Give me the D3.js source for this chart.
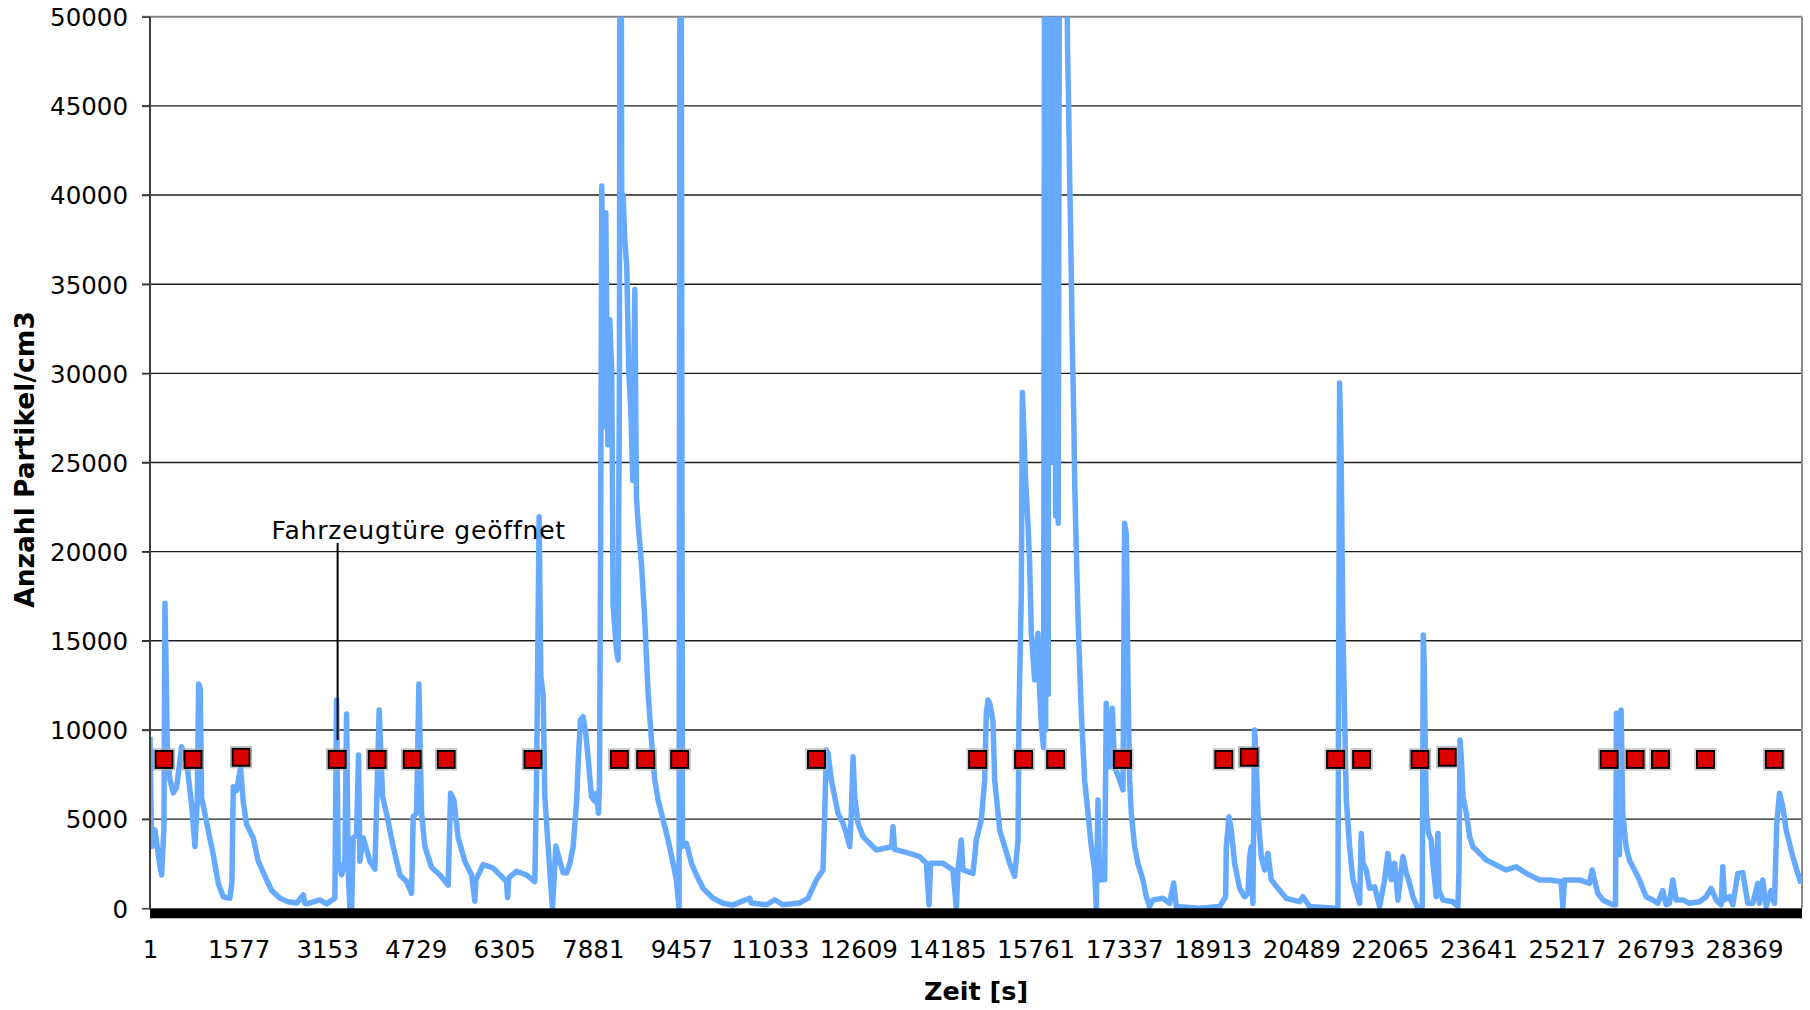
<!DOCTYPE html>
<html>
<head>
<meta charset="utf-8">
<script src="https://cdn.jsdelivr.net/npm/d3@7"></script>
<style>
  html, body { margin: 0; padding: 0; background: #fff; }
  svg { display: block; }
  text { font-family: "DejaVu Sans", Verdana, sans-serif; fill: #000; }
</style>
</head>
<body>
<svg id="chart" width="1810" height="1010"></svg>
<script>
// ---------------- data ----------------
const categoryCount = 29400;   // number of one-second categories on the x axis
const xTickLabels = [1, 1577, 3153, 4729, 6305, 7881, 9457, 11033, 12609, 14185,
                     15761, 17337, 18913, 20489, 22065, 23641, 25217, 26793, 28369];
const yTicks = [0, 5000, 10000, 15000, 20000, 25000, 30000, 35000, 40000, 45000, 50000];

// particle count series
const seriesTime = [
  1, 30, 89, 148, 208, 249, 267, 285, 308, 356, 415, 475, 564, 653, 742, 801, 842, 866, 895, 920,
  978, 1067, 1127, 1215, 1304, 1423, 1459, 1483, 1542, 1613, 1660, 1720, 1838, 1927, 2046, 2165, 2313, 2461, 2609, 2728,
  2757, 2787, 3024, 3143, 3291, 3321, 3350, 3410, 3469, 3499, 3528, 3558, 3590, 3617, 3677, 3712, 3736, 3795, 3914, 4003,
  4080, 4140, 4211, 4329, 4448, 4567, 4656, 4685, 4745, 4786, 4834, 4893, 5011, 5160, 5307, 5350, 5408, 5485, 5604, 5723,
  5782, 5800, 5930, 6107, 6227, 6345, 6365, 6385, 6523, 6701, 6849, 6879, 6926, 6956, 6997, 7027, 7086, 7164, 7223, 7294,
  7353, 7413, 7472, 7531, 7591, 7626, 7662, 7708, 7756, 7804, 7858, 7917, 7947, 7982, 8000, 8018, 8041, 8077, 8112, 8148,
  8183, 8219, 8242, 8302, 8331, 8355, 8366, 8384, 8396, 8420, 8450, 8486, 8522, 8557, 8593, 8629, 8658, 8688, 8747, 8806,
  8865, 8925, 8984, 9043, 9103, 9221, 9310, 9369, 9416, 9434, 9452, 9477, 9548, 9637, 9726, 9844, 10022, 10200, 10377, 10674,
  10700, 10971, 11119, 11261, 11563, 11711, 11860, 11978, 12008, 12037, 12067, 12126, 12186, 12245, 12334, 12393, 12453, 12482, 12512, 12541,
  12601, 12690, 12809, 12927, 13200, 13224, 13250, 13520, 13698, 13817, 13864, 13894, 14113, 14291, 14350, 14380, 14439, 14469, 14647, 14706,
  14795, 14855, 14884, 14914, 14944, 15003, 15033, 15063, 15122, 15211, 15299, 15388, 15448, 15466, 15507, 15525, 15549, 15584, 15626, 15655,
  15685, 15744, 15803, 15833, 15868, 15904, 15922, 15940, 15958, 15985, 16003, 16029, 16047, 16074, 16092, 16118, 16141, 16163, 16189, 16296,
  16331, 16349, 16367, 16385, 16412, 16438, 16456, 16486, 16516, 16545, 16575, 16634, 16693, 16753, 16812, 16842, 16871, 16901, 16990, 17019,
  17049, 17079, 17126, 17167, 17256, 17316, 17345, 17375, 17405, 17434, 17464, 17523, 17582, 17671, 17731, 17790, 17849, 18027, 18146, 18218,
  18265, 18680, 19036, 19143, 19155, 19202, 19244, 19303, 19392, 19480, 19540, 19570, 19599, 19629, 19658, 19688, 19718, 19777, 19836, 19895,
  19955, 20073, 20222, 20459, 20518, 20637, 21100, 21141, 21171, 21200, 21230, 21260, 21290, 21349, 21408, 21527, 21557, 21586, 21646, 21705,
  21794, 21883, 21972, 22031, 22090, 22150, 22209, 22298, 22357, 22416, 22475, 22564, 22642, 22660, 22678, 22696, 22714, 22755, 22802, 22830,
  22862, 22891, 22921, 22939, 23010, 23188, 23277, 23295, 23313, 23336, 23366, 23426, 23485, 23544, 23663, 23781, 23900, 24017, 24136, 24314,
  24492, 24729, 24907, 25114, 25144, 25174, 25440, 25618, 25666, 25707, 25766, 25855, 26033, 26081, 26099, 26121, 26151, 26181, 26210, 26270,
  26329, 26388, 26448, 26507, 26626, 26744, 26833, 26922, 26982, 27041, 27100, 27160, 27278, 27397, 27575, 27694, 27783, 27872, 27961, 27990,
  28020, 28109, 28168, 28257, 28346, 28435, 28524, 28613, 28643, 28702, 28762, 28851, 28910, 28951, 28999, 29058, 29118, 29177, 29236, 29325,
  29384
];
const seriesValue = [
  9620, 3460, 4400, 3000, 1870, 4500, 17100, 13900, 9000, 7200, 6470, 6800, 9060, 8200, 5800, 3460, 6000, 12580, 12300, 6200,
  5300, 3900, 3000, 1400, 650, 560, 1500, 6820, 6600, 7890, 6000, 4700, 3950, 2640, 1800, 1000, 560, 370, 300, 750,
  280, 250, 470, 250, 560, 11680, 2640, 1870, 2640, 10900, 2000, 0, 0, 3950, 4100, 8600, 2640, 3950, 2640, 2200,
  11120, 6260, 5300, 3455, 1870, 1500, 841, 5140, 5330, 12580, 5330, 3455, 2300, 1870, 1300, 6450, 6080, 3950, 2640, 1870,
  400, 1600, 2450, 2260, 1870, 1500, 600, 1700, 2080, 1870, 1500, 7000, 21960, 13000, 12000, 6300, 3455, 0, 3500, 2640,
  2000, 1980, 2500, 3455, 5890, 8500, 10560, 10745, 9800, 8200, 6260, 6000, 6450, 5330, 6820, 18790, 40500, 27000, 39000, 26000,
  33000, 30000, 17000, 14500, 13925, 30000, 60000, 60000, 38000, 40000, 37500, 36000, 30000, 28000, 24000, 34700, 23000, 21600, 19350, 16170,
  12070, 9440, 7200, 6080, 5330, 3830, 2520, 1590, 0, 60000, 60000, 3455, 3640, 2520, 1870, 1120, 560, 280, 190, 560,
  300, 200, 480, 200, 300, 560, 1590, 2150, 5330, 8880, 8700, 7200, 6260, 5330, 4770, 4200, 3455, 5330, 8500, 6260,
  4770, 4020, 3640, 3270, 3455, 4580, 3300, 3080, 2900, 2520, 200, 2520, 2520, 2150, 0, 2150, 3830, 2150, 1960, 3830,
  4960, 7200, 10940, 11680, 11500, 10500, 7200, 6260, 4390, 3455, 2520, 1800, 3830, 10940, 17660, 28930, 27000, 24000, 21500, 19370,
  15430, 12800, 15430, 12250, 10000, 9000, 60000, 10000, 60000, 12000, 60000, 30000, 60000, 25000, 60000, 22000, 60000, 21600, 60000, 60000,
  48000, 45000, 41000, 38000, 32000, 28000, 24000, 20000, 16350, 13550, 10950, 7200, 5330, 3455, 2150, 0, 6080, 1600, 1600, 11500,
  7940, 7940, 11220, 7940, 7200, 6640, 21600, 21000, 12800, 7200, 5330, 3455, 2520, 1600, 650, 100, 470, 560, 280, 1420,
  100, 0, 100, 650, 3455, 5140, 4390, 2520, 1120, 650, 841, 2900, 3455, 280, 10000, 8140, 5330, 2900, 2150, 3080,
  1600, 1120, 560, 370, 650, 100, 0, 100, 29460, 25000, 15600, 10940, 6080, 3455, 1600, 280, 4200, 2520, 2150, 1120,
  1200, 100, 1600, 3080, 1600, 2520, 470, 2900, 2000, 1400, 650, 0, 100, 15330, 13500, 9000, 5330, 4200, 3830, 2520,
  1590, 650, 4200, 1000, 470, 370, 100, 2000, 9440, 8500, 6260, 5330, 4020, 3455, 3080, 2710, 2520, 2330, 2150, 2330,
  1960, 1590, 1590, 1500, 0, 1590, 1590, 1400, 2150, 1590, 841, 470, 200, 200, 10940, 5330, 3000, 11120, 5330, 3455,
  2700, 2330, 1960, 1590, 650, 470, 280, 1000, 200, 280, 1590, 470, 470, 280, 370, 650, 1120, 470, 200, 2330,
  470, 650, 200, 1960, 2000, 280, 280, 1400, 280, 1590, 100, 1000, 280, 4770, 6450, 5700, 4390, 3640, 2900, 1960,
  1400
];

// "Fahrzeugtüre geöffnet" event markers
const markerTime = [250, 766, 1621, 3331, 4043, 4666, 5272, 6816, 8353, 8822, 9427, 11861, 14729,
                    15548, 16118, 17306, 19110, 19561, 21100, 21563, 22601, 23087, 25967, 26430, 26881, 27682, 28906];
const markerValue = [8350, 8350, 8470, 8350, 8350, 8350, 8350, 8350, 8350, 8350, 8350, 8350, 8350,
                     8350, 8350, 8350, 8350, 8470, 8350, 8350, 8350, 8470, 8350, 8350, 8350, 8350, 8350];

const annotationText = "Fahrzeugtüre geöffnet";
const annotationTime = 3331;
const yTitle = "Anzahl Partikel/cm3";
const xTitle = "Zeit [s]";

// ---------------- layout ----------------
const plot = { left: 150, right: 1802, top: 16.7, bottom: 908.3 };

const svg = d3.select("#chart");
const x = d3.scaleLinear().domain([1, categoryCount]).range([plot.left, plot.right]);
const y = d3.scaleLinear().domain([0, 50000]).range([plot.bottom, plot.top]);

// gridlines
svg.append("g").selectAll("line")
  .data(yTicks.filter(v => v > 0 && v < 50000))
  .join("line")
  .attr("x1", plot.left - 8).attr("x2", plot.right)
  .attr("y1", d => y(d)).attr("y2", d => y(d))
  .attr("stroke", "#1e1e1e").attr("stroke-width", 1.4);

// top + right border (grey)
svg.append("line").attr("x1", plot.left - 8).attr("x2", plot.right)
  .attr("y1", y(50000)).attr("y2", y(50000))
  .attr("stroke", "#858585").attr("stroke-width", 2);
svg.append("line").attr("x1", plot.right).attr("x2", plot.right)
  .attr("y1", plot.top).attr("y2", plot.bottom)
  .attr("stroke", "#8a8a8a").attr("stroke-width", 2);

// clip for the series
svg.append("defs").append("clipPath").attr("id", "plotclip")
  .append("rect")
  .attr("x", plot.left).attr("y", plot.top)
  .attr("width", plot.right - plot.left).attr("height", plot.bottom - plot.top + 4);

const series = seriesTime.map((t, i) => ({ t, v: seriesValue[i] }));
const line = d3.line().x(d => x(d.t)).y(d => y(d.v));

svg.append("path")
  .datum(series)
  .attr("clip-path", "url(#plotclip)")
  .attr("d", line)
  .attr("fill", "none")
  .attr("stroke", "#66aaff")
  .attr("stroke-width", 5.5)
  .attr("stroke-linejoin", "round");

// y axis line and ticks
svg.append("line").attr("x1", plot.left).attr("x2", plot.left)
  .attr("y1", plot.top).attr("y2", plot.bottom)
  .attr("stroke", "#3c3c3c").attr("stroke-width", 2);

const yAxis = d3.axisLeft(y).tickValues(yTicks).tickSize(8).tickPadding(14)
  .tickFormat(d3.format("d"));
const gy = svg.append("g").attr("transform", `translate(${plot.left},0)`).call(yAxis);
gy.select(".domain").remove();
gy.selectAll(".tick line").attr("stroke", "#3c3c3c").attr("stroke-width", 1.5);
gy.selectAll(".tick text")
  .attr("font-family", "'DejaVu Sans', Verdana, sans-serif")
  .attr("font-size", 24.5).attr("fill", "#000").attr("dy", "0.36em");

// x axis: dense category tick marks form a black band
svg.append("rect")
  .attr("x", x(1)).attr("y", plot.bottom)
  .attr("width", x(categoryCount) - x(1)).attr("height", 10)
  .attr("fill", "#000");

const xAxis = d3.axisBottom(x).tickValues(xTickLabels).tickSize(0).tickPadding(0)
  .tickFormat(d3.format("d"));
const gx = svg.append("g").attr("transform", `translate(0,${plot.bottom})`).call(xAxis);
gx.select(".domain").remove();
gx.selectAll(".tick text")
  .attr("font-family", "'DejaVu Sans', Verdana, sans-serif")
  .attr("font-size", 24.5).attr("fill", "#000")
  .attr("y", 50).attr("dy", 0);

// markers
const markers = markerTime.map((t, i) => ({ t, v: markerValue[i] }));
svg.append("g").selectAll("rect.halo")
  .data(markers).join("rect")
  .attr("x", d => x(d.t) - 10.5).attr("y", d => y(d.v) - 10.5)
  .attr("width", 21).attr("height", 21)
  .attr("fill", "none").attr("stroke", "#b0b0b0").attr("stroke-width", 1);
svg.append("g").selectAll("rect.mk")
  .data(markers).join("rect")
  .attr("x", d => x(d.t) - 8.5).attr("y", d => y(d.v) - 8.5)
  .attr("width", 17).attr("height", 17)
  .attr("fill", "#dd0000").attr("stroke", "#000").attr("stroke-width", 2);

// annotation
svg.append("line")
  .attr("x1", x(annotationTime) + 0.5).attr("x2", x(annotationTime) + 0.5)
  .attr("y1", 543).attr("y2", 740)
  .attr("stroke", "#000").attr("stroke-width", 2);
svg.append("text")
  .attr("x", 271.5).attr("y", 539)
  .attr("font-size", 25).attr("letter-spacing", 0.8)
  .text(annotationText);

// axis titles
svg.append("text")
  .attr("x", (plot.left + plot.right) / 2).attr("y", 1000)
  .attr("text-anchor", "middle").attr("font-weight", "bold").attr("font-size", 25.5)
  .text(xTitle);
svg.append("text")
  .attr("transform", "translate(33.5,459.5) rotate(-90)")
  .attr("text-anchor", "middle").attr("font-weight", "bold").attr("font-size", 26.5)
  .text(yTitle);
</script>
</body>
</html>
